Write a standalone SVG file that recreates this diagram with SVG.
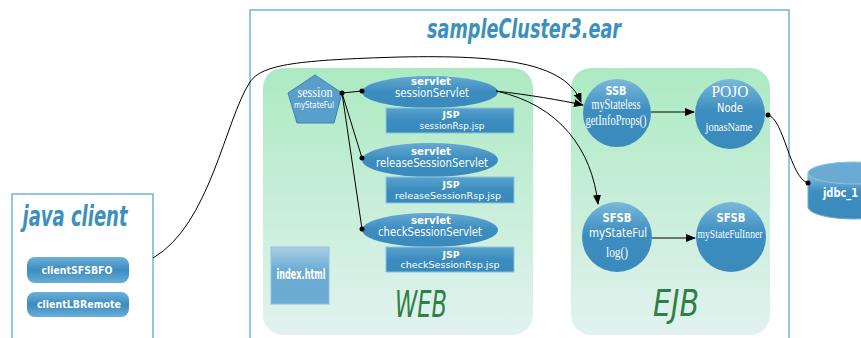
<svg xmlns="http://www.w3.org/2000/svg" width="861" height="338" viewBox="0 0 861 338">
<defs>
<linearGradient id="gGreen" x1="0" y1="0" x2="0" y2="1"><stop offset="0" stop-color="#aceac2"/><stop offset="1" stop-color="#e2f2ef"/></linearGradient>
<linearGradient id="gCircle" x1="0" y1="0" x2="0" y2="1"><stop offset="0" stop-color="#7ab9db"/><stop offset="0.45" stop-color="#3d8ec0"/><stop offset="1" stop-color="#3a8abc"/></linearGradient>
<linearGradient id="gEll" x1="0" y1="0" x2="0" y2="1"><stop offset="0" stop-color="#65a9d3"/><stop offset="0.5" stop-color="#3b8cbf"/><stop offset="1" stop-color="#3a8abc"/></linearGradient>
<linearGradient id="gRect" x1="0" y1="0" x2="0" y2="1"><stop offset="0" stop-color="#5aa2ce"/><stop offset="0.5" stop-color="#3b8cbf"/><stop offset="1" stop-color="#3a89bb"/></linearGradient>
<linearGradient id="gBtn" x1="0" y1="0" x2="0" y2="1"><stop offset="0" stop-color="#6db0d8"/><stop offset="0.5" stop-color="#3b8cbf"/><stop offset="1" stop-color="#6aaed6"/></linearGradient>
<linearGradient id="gIdx" x1="0" y1="0" x2="0" y2="1"><stop offset="0" stop-color="#a9d0e7"/><stop offset="0.4" stop-color="#6dacd4"/><stop offset="1" stop-color="#6aaad3"/></linearGradient>
<linearGradient id="gCyl" x1="0" y1="0" x2="0" y2="1"><stop offset="0" stop-color="#8cc2e1"/><stop offset="0.4" stop-color="#3d8ec0"/><stop offset="1" stop-color="#3a8abc"/></linearGradient>
<marker id="arr" markerWidth="10" markerHeight="8" refX="9" refY="4" orient="auto" markerUnits="userSpaceOnUse"><path d="M0,0 L10,4 L0,8 Z" fill="#000"/></marker>
<marker id="dot" markerWidth="6" markerHeight="6" refX="3" refY="3" markerUnits="userSpaceOnUse"><circle cx="3" cy="3" r="2.5" fill="#000"/></marker>
</defs>
<style>
.frame{fill:#fff;stroke:#7db7d7;stroke-width:1.6}
.zone{fill:url(#gGreen)}
.circ{fill:url(#gCircle)}
.ell{fill:url(#gEll)}
.jsp{fill:url(#gRect);stroke:#8cc3e0;stroke-width:1}
.btn{fill:url(#gBtn)}
.title{font-family:"DejaVu Sans",sans-serif;font-weight:bold;font-style:italic;fill:#3d8fbd}
.zlabel{font-family:"DejaVu Sans",sans-serif;font-style:italic;fill:#2f7f48}
.w{fill:#fff;text-anchor:middle}
.sb{font-family:"DejaVu Sans",sans-serif;font-weight:bold}
.s{font-family:"DejaVu Sans",sans-serif}
.sf{font-family:"Liberation Serif",serif}
.con{fill:none;stroke:#000;stroke-width:1}
</style>

<g id="sampleCluster3">
<rect class="frame" x="250" y="10" width="539" height="340"/>
<text class="title" x="524" y="38" font-size="27" text-anchor="middle" textLength="194" lengthAdjust="spacingAndGlyphs">sampleCluster3.ear</text>
</g>

<g id="javaClient">
<rect class="frame" x="12" y="194" width="141" height="160"/>
<text class="title" x="75" y="226" font-size="28" text-anchor="middle" textLength="105" lengthAdjust="spacingAndGlyphs">java client</text>
</g>
<g id="clientSFSBFO">
<rect class="btn" x="27" y="257" width="102" height="26" rx="8"/>
<text class="w sb" x="77" y="274" font-size="11" textLength="71" lengthAdjust="spacingAndGlyphs">clientSFSBFO</text>
</g>
<g id="clientLBRemote">
<rect class="btn" x="27" y="292" width="102" height="25" rx="8"/>
<text class="w sb" x="79" y="308" font-size="11" textLength="84" lengthAdjust="spacingAndGlyphs">clientLBRemote</text>
</g>

<g id="WEB">
<rect class="zone" x="263" y="68" width="270" height="267" rx="20"/>
<text class="zlabel" x="421" y="317" font-size="38" text-anchor="middle" textLength="52" lengthAdjust="spacingAndGlyphs">WEB</text>
</g>
<g id="EJB">
<rect class="zone" x="571" y="68" width="199" height="267" rx="20"/>
<text class="zlabel" x="676" y="316" font-size="38" text-anchor="middle" textLength="46" lengthAdjust="spacingAndGlyphs">EJB</text>
</g>

<g id="session">
<polygon points="315,75 342,93 334,123 297,123 288,93" fill="#5a9fcc" stroke="#3d82b0" stroke-width="1"/>
<text class="w sf" x="315" y="97" font-size="14" textLength="35" lengthAdjust="spacingAndGlyphs">session</text>
<text class="w s" x="314" y="108" font-size="8" textLength="40" lengthAdjust="spacingAndGlyphs">myStateFul</text>
</g>

<g id="sessionServlet">
<ellipse class="ell" cx="430" cy="92" rx="68" ry="16"/>
<text class="w sb" x="431" y="85" font-size="10" textLength="40" lengthAdjust="spacingAndGlyphs">servlet</text>
<text class="w s" x="432" y="97" font-size="11.5" textLength="74" lengthAdjust="spacingAndGlyphs">sessionServlet</text>
</g>
<g id="sessionRsp">
<rect class="jsp" x="386" y="108" width="128" height="25"/>
<text class="w sb" x="451" y="118" font-size="9.5" textLength="17" lengthAdjust="spacingAndGlyphs">JSP</text>
<text class="w s" x="452" y="129" font-size="9.5" textLength="65" lengthAdjust="spacingAndGlyphs">sessionRsp.jsp</text>
</g>

<g id="releaseSessionServlet">
<ellipse class="ell" cx="430" cy="160" rx="68" ry="17"/>
<text class="w sb" x="431" y="155" font-size="10" textLength="40" lengthAdjust="spacingAndGlyphs">servlet</text>
<text class="w s" x="432" y="167" font-size="11.5" textLength="112" lengthAdjust="spacingAndGlyphs">releaseSessionServlet</text>
</g>
<g id="releaseSessionRsp">
<rect class="jsp" x="386" y="177" width="128" height="26"/>
<text class="w sb" x="451" y="188" font-size="9.5" textLength="17" lengthAdjust="spacingAndGlyphs">JSP</text>
<text class="w s" x="448" y="199" font-size="9.5" textLength="106" lengthAdjust="spacingAndGlyphs">releaseSessionRsp.jsp</text>
</g>

<g id="checkSessionServlet">
<ellipse class="ell" cx="430" cy="230" rx="68" ry="17"/>
<text class="w sb" x="431" y="224" font-size="10" textLength="40" lengthAdjust="spacingAndGlyphs">servlet</text>
<text class="w s" x="430" y="236" font-size="11.5" textLength="104" lengthAdjust="spacingAndGlyphs">checkSessionServlet</text>
</g>
<g id="checkSessionRsp">
<rect class="jsp" x="386" y="247" width="128" height="25"/>
<text class="w sb" x="451" y="258" font-size="9.5" textLength="17" lengthAdjust="spacingAndGlyphs">JSP</text>
<text class="w s" x="450" y="268" font-size="9.5" textLength="99" lengthAdjust="spacingAndGlyphs">checkSessionRsp.jsp</text>
</g>

<g id="index">
<rect x="271" y="247" width="58" height="57" fill="url(#gIdx)" stroke="#8ec1dd" stroke-width="1"/>
<text class="w sb" x="301" y="279" font-size="14" textLength="49" lengthAdjust="spacingAndGlyphs">index.html</text>
</g>

<g id="SSB">
<circle class="circ" cx="617" cy="113" r="34"/>
<text class="w sb" x="616" y="95" font-size="12" textLength="21" lengthAdjust="spacingAndGlyphs">SSB</text>
<text class="w sf" x="616" y="109" font-size="14" textLength="49" lengthAdjust="spacingAndGlyphs">myStateless</text>
<text class="w sf" x="616" y="125" font-size="14" textLength="61" lengthAdjust="spacingAndGlyphs">getInfoProps()</text>
</g>
<g id="POJO">
<circle class="circ" cx="730" cy="114" r="35"/>
<text class="w sf" x="730" y="97" font-size="17" textLength="37" lengthAdjust="spacingAndGlyphs">POJO</text>
<text class="w s" x="730" y="112" font-size="13" textLength="26" lengthAdjust="spacingAndGlyphs">Node</text>
<text class="w sf" x="729" y="131" font-size="13" textLength="47" lengthAdjust="spacingAndGlyphs">jonasName</text>
</g>
<g id="SFSB">
<circle class="circ" cx="617" cy="237" r="35"/>
<text class="w sb" x="617" y="222" font-size="13" textLength="29" lengthAdjust="spacingAndGlyphs">SFSB</text>
<text class="w s" x="618" y="237" font-size="13" textLength="58" lengthAdjust="spacingAndGlyphs">myStateFul</text>
<text class="w sf" x="617" y="257" font-size="14" textLength="22" lengthAdjust="spacingAndGlyphs">log()</text>
</g>
<g id="SFSBInner">
<circle class="circ" cx="731" cy="237" r="35"/>
<text class="w sb" x="731" y="222" font-size="13" textLength="29" lengthAdjust="spacingAndGlyphs">SFSB</text>
<text class="w sf" x="730" y="238" font-size="13" textLength="65" lengthAdjust="spacingAndGlyphs">myStateFulInner</text>
</g>

<g id="jdbc_1">
<path d="M808,173 L808,207 A46,12 0 0 0 900,207 L900,173 Z" fill="url(#gCyl)" stroke="#6aaad3" stroke-width="1"/>
<ellipse cx="854" cy="173" rx="46" ry="11" fill="#6aaad3" stroke="#8cc2e1" stroke-width="1"/>
<text class="sb" x="823" y="197" font-size="12" fill="#fff" textLength="35" lengthAdjust="spacingAndGlyphs">jdbc_1</text>
</g>

<g id="connectors">
<path class="con" d="M153,258 C210,225 225,120 250,82 C262,64 300,60 400,57 C500,55 565,62 581,102" marker-end="url(#arr)"/>
<path class="con" d="M496,91 C530,95 560,100 583,105" marker-end="url(#arr)"/>
<path class="con" d="M496,91 C560,105 592,150 598,204" marker-end="url(#arr)"/>
<path class="con" d="M651,112 L694,112" marker-end="url(#arr)"/>
<path class="con" d="M652,238 L695,238" marker-end="url(#arr)"/>
<path class="con" d="M768,115 C784,119 790,178 808,183" marker-start="url(#dot)" marker-end="url(#dot)"/>
<path class="con" d="M342,93 L362,91" marker-start="url(#dot)" marker-end="url(#dot)"/>
<path class="con" d="M342,93 L362,158" marker-end="url(#dot)"/>
<path class="con" d="M342,93 L362,229" marker-end="url(#dot)"/>
</g>
</svg>
